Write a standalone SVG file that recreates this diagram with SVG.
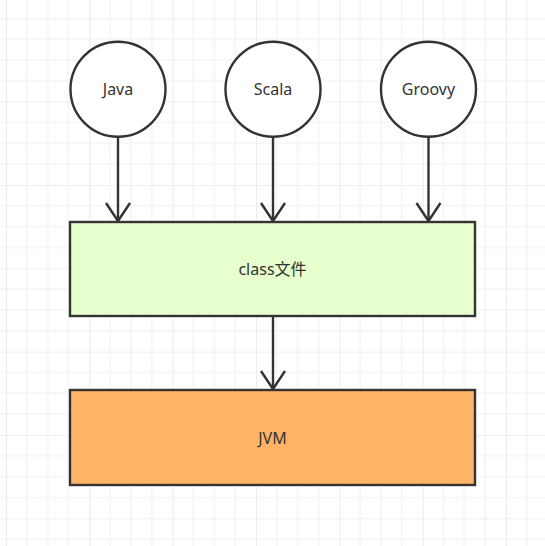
<svg xmlns="http://www.w3.org/2000/svg" width="545" height="546" viewBox="0 0 545 546">
<defs>
<pattern id="grid" patternUnits="userSpaceOnUse" x="6" y="18.3" width="83.33" height="83.33">
<path d="M0 0V83.33M20.83 0V83.33M41.67 0V83.33M62.5 0V83.33M0 0H83.33M0 20.83H83.33M0 41.67H83.33M0 62.5H83.33" stroke="#f0f0f0" stroke-width="1.2" fill="none"/>
<path d="M0 0V83.33M0 0H83.33" stroke="#e6e6e6" stroke-width="1.2" fill="none"/>
</pattern>
<marker id="arr" markerUnits="userSpaceOnUse" markerWidth="30" markerHeight="30" refX="20" refY="13" orient="auto" viewBox="0 0 30 26">
<path d="M2 1 L20 13 L2 25" fill="none" stroke="#333" stroke-width="2.4"/>
</marker>
</defs>
<style>
.n{stroke:#333;stroke-width:2.4}
.t{font-family:"Noto Sans","Noto Sans CJK SC",sans-serif;font-size:16px;fill:#333;text-anchor:middle;dominant-baseline:central}
.c{stroke:#333;stroke-width:2.4;fill:none;marker-end:url(#arr)}
</style>
<rect width="545" height="546" fill="#fff"/>
<rect width="545" height="546" fill="url(#grid)"/>
<g id="connectors">
<path class="c" d="M118 137V221"/>
<path class="c" d="M273 137V221"/>
<path class="c" d="M428.5 137V221"/>
<path class="c" d="M273 316V389"/>
</g>
<g id="java"><circle class="n" cx="118" cy="89.2" r="47.5" fill="#fff"/><text class="t" x="118" y="89">Java</text></g>
<g id="scala"><circle class="n" cx="273" cy="89.2" r="47.5" fill="#fff"/><text class="t" x="273" y="89">Scala</text></g>
<g id="groovy"><circle class="n" cx="428.5" cy="89.2" r="47.5" fill="#fff"/><text class="t" x="428.5" y="89">Groovy</text></g>
<g id="class"><rect class="n" x="70" y="222" width="405" height="94" fill="#e6ffcc"/><text class="t" x="272.5" y="269">class文件</text></g>
<g id="jvm"><rect class="n" x="70" y="390" width="405" height="95" fill="#ffb366"/><text class="t" x="272.5" y="437.5">JVM</text></g>
</svg>
